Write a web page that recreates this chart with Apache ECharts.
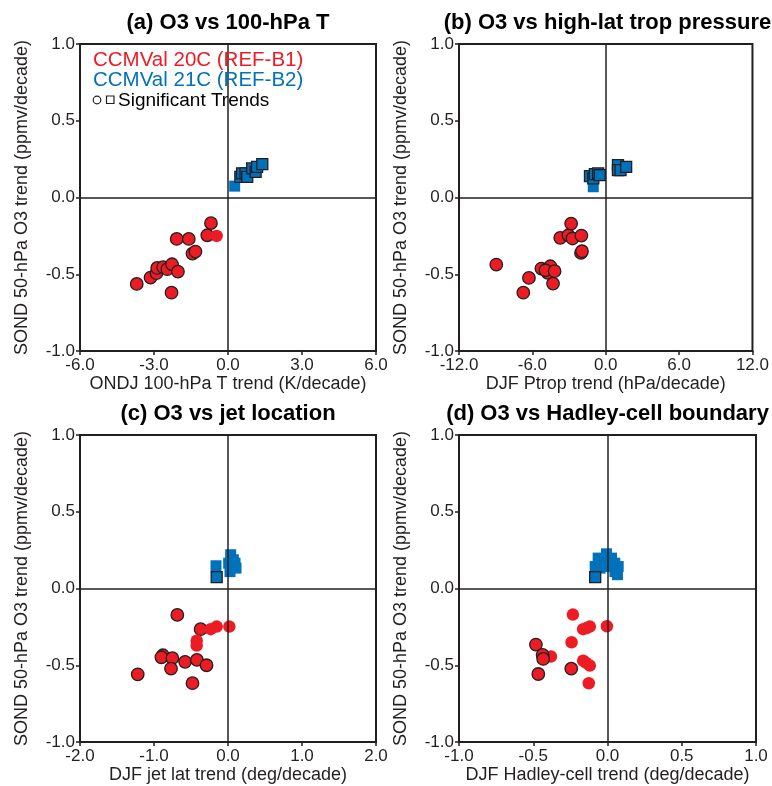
<!DOCTYPE html>
<html><head><meta charset="utf-8">
<script src="https://cdn.jsdelivr.net/npm/echarts@6/dist/echarts.min.js"></script>
<style>html,body{margin:0;padding:0;background:#fff}#c{width:772px;height:786px}</style>
</head><body><div id="c"></div>
<script>
// ---- data: [x trend, O3 trend, significant(1/0)] ----
const redA = [[-3.70,-0.563,1],[-3.14,-0.522,1],[-2.90,-0.493,1],[-2.87,-0.459,1],[-2.63,-0.454,1],[-2.46,-0.467,1],[-2.27,-0.435,1],[-2.03,-0.483,1],[-2.29,-0.620,1],[-2.08,-0.270,1],[-1.59,-0.270,1],[-1.44,-0.365,1],[-1.32,-0.352,1],[-0.84,-0.246,1],[-0.69,-0.167,1],[-0.46,-0.250,0]];
const blueA = [[0.27,0.074,0],[0.50,0.135,1],[0.57,0.157,1],[0.71,0.157,1],[0.78,0.135,1],[0.98,0.190,1],[1.12,0.167,1],[1.18,0.200,1],[1.39,0.217,1]];
const redB = [[-8.95,-0.437,1],[-6.28,-0.524,1],[-6.74,-0.620,1],[-5.26,-0.463,1],[-4.53,-0.448,1],[-4.74,-0.491,1],[-4.93,-0.474,1],[-4.31,-0.561,1],[-4.18,-0.480,1],[-3.72,-0.263,1],[-3.05,-0.246,1],[-2.83,-0.170,1],[-2.72,-0.267,1],[-1.99,-0.248,1],[-2.02,-0.361,1],[-1.94,-0.350,1]];
const blueB = [[-1.02,0.070,0],[-1.29,0.139,1],[-1.02,0.124,1],[-0.89,0.152,1],[-0.62,0.157,1],[-0.49,0.146,1],[1.00,0.211,1],[1.00,0.178,1],[1.21,0.178,1],[1.67,0.200,1]];
const redC = [[-0.685,-0.172,1],[-0.37,-0.265,1],[-0.234,-0.265,0],[-0.153,-0.248,0],[0.018,-0.248,0],[-0.423,-0.340,0],[-0.423,-0.372,0],[-0.88,-0.435,1],[-0.90,-0.448,1],[-0.752,-0.454,1],[-0.77,-0.522,1],[-0.58,-0.478,1],[-0.42,-0.465,1],[-0.29,-0.500,1],[-1.22,-0.559,1],[-0.48,-0.617,1]];
const blueC = [[-0.162,0.148,0],[0.036,0.220,0],[0.072,0.187,0],[0.05,0.143,0],[0.095,0.165,0],[0.027,0.110,0],[0.108,0.133,0],[0.009,0.165,0],[-0.153,0.074,1]];
const redD = [[-0.233,-0.170,0],[-0.164,-0.265,0],[-0.14,-0.258,0],[-0.119,-0.248,0],[-0.004,-0.246,0],[-0.242,-0.350,0],[-0.381,-0.443,0],[-0.164,-0.470,0],[-0.146,-0.483,0],[-0.119,-0.502,0],[-0.126,-0.617,0],[-0.482,-0.365,1],[-0.437,-0.433,1],[-0.433,-0.459,1],[-0.466,-0.557,1],[-0.244,-0.522,1]];
const blueD = [[-0.083,0.143,0],[-0.063,0.198,0],[-0.03,0.187,0],[-0.007,0.226,0],[0.027,0.198,0],[0.049,0.165,0],[0.072,0.143,0],[0.016,0.143,0],[-0.05,0.133,0],[0.067,0.09,0],[0.05,0.11,0],[-0.083,0.074,1]];

const titles = ['(a) O3 vs 100-hPa T','(b) O3 vs high-lat trop pressure','(c) O3 vs jet location','(d) O3 vs Hadley-cell boundary'];
const xNames = ['ONDJ 100-hPa T trend (K/decade)','DJF Ptrop trend (hPa/decade)','DJF jet lat trend (deg/decade)','DJF Hadley-cell trend (deg/decade)'];
const yName = 'SOND 50-hPa O3 trend (ppmv/decade)';
const xRanges = [[-6,6,3],[-12,12,6],[-2,2,1],[-1,1,0.5]];
const yRange = [-1,1,0.5];
const legendLines = ['CCMVal 20C (REF-B1)','CCMVal 21C (REF-B2)','Significant Trends'];

const RED = '#ED1C24', BLUE = '#0072BC', INK = '#231f20';
const FONT = "'Liberation Sans', Arial, Helvetica, sans-serif";
const grids = [
  {left:80, top:44, width:296, height:307},
  {left:459, top:44, width:297, height:307},
  {left:80, top:435, width:296, height:307},
  {left:459, top:435, width:297, height:307}
];
const reds = [redA, redB, redC, redD];
const blues = [blueA, blueB, blueC, blueD];

function pts(arr){
  return arr.map(d => ({value:[d[0], d[1]], itemStyle:{borderColor: d[2] ? INK : 'rgba(0,0,0,0)', borderWidth: d[2] ? 1.3 : 0}}));
}

const option = {
  animation:false,
  backgroundColor:'#fff',
  textStyle:{fontFamily:FONT},
  grid: grids.map(g => Object.assign({show:true, borderColor:INK, borderWidth:2, backgroundColor:'rgba(0,0,0,0)'}, g)),
  xAxis: xRanges.map((r,i) => ({
    gridIndex:i, type:'value', min:r[0], max:r[1], interval:r[2],
    name:xNames[i], nameLocation:'middle', nameGap:24,
    nameTextStyle:{fontSize:18, color:INK, fontFamily:FONT},
    axisLine:{show:true, onZero:false, lineStyle:{color:INK, width:2}},
    axisTick:{show:true, length:4, lineStyle:{color:INK, width:1.5}},
    splitLine:{show:false},
    axisLabel:{fontSize:17, color:INK, fontFamily:FONT, margin:6, formatter:v => v.toFixed(1)}
  })),
  yAxis: xRanges.map((r,i) => ({
    gridIndex:i, type:'value', min:yRange[0], max:yRange[1], interval:yRange[2],
    name:yName, nameLocation:'middle', nameGap:49,
    nameTextStyle:{fontSize:18, color:INK, fontFamily:FONT},
    axisLine:{show:true, onZero:false, lineStyle:{color:INK, width:2}},
    axisTick:{show:true, length:4, lineStyle:{color:INK, width:1.5}},
    splitLine:{show:false},
    axisLabel:{fontSize:17, color:INK, fontFamily:FONT, margin:5, formatter:v => v.toFixed(1)}
  })),
  series: [],
  graphic: []
};

for (let i = 0; i < 4; i++) {
  option.series.push({
    type:'line', xAxisIndex:i, yAxisIndex:i, data:[], z:1, silent:true,
    markLine:{silent:true, symbol:'none', animation:false, label:{show:false},
      lineStyle:{color:INK, width:1.5, type:'solid'},
      data:[{xAxis:0},{yAxis:0}]}
  });
  option.series.push({
    type:'scatter', xAxisIndex:i, yAxisIndex:i, symbol:'circle', symbolSize:12.5, z:3,
    itemStyle:{color:RED, opacity:1}, data:pts(reds[i])
  });
  option.series.push({
    type:'scatter', xAxisIndex:i, yAxisIndex:i, symbol:'rect', symbolSize:11, z:3,
    itemStyle:{color:BLUE, opacity:1}, data:pts(blues[i])
  });
  const g = grids[i];
  option.graphic.push({
    type:'text', x:g.left + g.width/2, y:g.top - 21, z:10,
    style:{text:titles[i], font:"bold 22px " + FONT, fill:'#000', align:'center', verticalAlign:'middle', textAlign:'center', textVerticalAlign:'middle'}
  });
}

// legend in panel (a)
option.graphic.push(
  {type:'text', x:93, y:60, z:10, style:{text:legendLines[0], font:"20.5px " + FONT, fill:RED, verticalAlign:'middle', textVerticalAlign:'middle'}},
  {type:'text', x:93, y:80, z:10, style:{text:legendLines[1], font:"20.5px " + FONT, fill:BLUE, verticalAlign:'middle', textVerticalAlign:'middle'}},
  {type:'circle', z:10, shape:{cx:97, cy:100, r:3.8}, style:{fill:'#fff', stroke:INK, lineWidth:1.2}},
  {type:'rect', z:10, shape:{x:106.5, y:96, width:7.5, height:7.5}, style:{fill:'#fff', stroke:INK, lineWidth:1.2}},
  {type:'text', x:118, y:101, z:10, style:{text:legendLines[2], font:"19px " + FONT, fill:'#000', verticalAlign:'middle', textVerticalAlign:'middle'}}
);

const chart = echarts.init(document.getElementById('c'), null, {renderer:'canvas'});
chart.setOption(option);
</script>
</body></html>
